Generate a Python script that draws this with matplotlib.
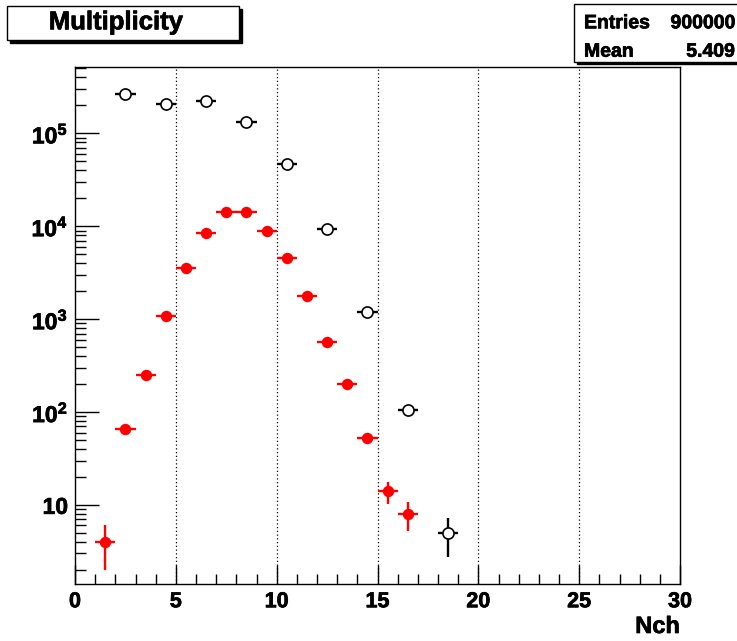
import numpy as np
import matplotlib
matplotlib.use("Agg")
import matplotlib.pyplot as plt
import matplotlib.patheffects as pe
from matplotlib.patches import Rectangle
from matplotlib.ticker import FixedLocator, NullFormatter

plt.rcParams["font.family"] = ["Liberation Sans", "DejaVu Sans"]
plt.rcParams["font.weight"] = "bold"
plt.rcParams["mathtext.fontset"] = "custom"
plt.rcParams["mathtext.rm"] = "Liberation Sans:bold"
plt.rcParams["mathtext.bf"] = "Liberation Sans:bold"
plt.rcParams["mathtext.it"] = "Liberation Sans:bold"

# Daten
red_x = [1.5, 2.5, 3.5, 4.5, 5.5, 6.5, 7.5, 8.5, 9.5, 10.5, 11.5, 12.5, 13.5, 14.5, 15.5, 16.5]
red_n = [4, 65, 253, 1070, 3580, 8550, 14250, 14300, 9000, 4520, 1760, 574, 202, 52, 14, 8]

open_x = [2.5, 4.5, 6.5, 8.5, 10.5, 12.5, 14.5, 16.5, 18.5]
open_n = [267000, 208000, 225000, 133000, 46300, 9440, 1180, 105, 5]

title_text = "Multiplicity"
stat_names = ["Entries", "Mean"]
stat_values = ["900000", "5.409"]

x_ticks = [0, 5, 10, 15, 20, 25, 30]
y_ticks = [10, 1e2, 1e3, 1e4, 1e5]
y_labels = ["10", "$10^{2}$", "$10^{3}$", "$10^{4}$", "$10^{5}$"]

W, H = 737, 641
heavy = [pe.withStroke(linewidth=0.5, foreground="black")]


def fx(px):
    return px / W


def fy(py):
    return 1 - py / H


fig = plt.figure(figsize=(W / 100, H / 100), dpi=100)
ax = fig.add_axes([fx(75), fy(584.3), fx(680) - fx(75), fy(67.3) - fy(584.3)])

ax.set_xlim(0, 30)
ax.set_yscale("log")
ax.set_ylim(1.395, 5.15e5)

# Fehlerbalken + Marker
red_err = np.sqrt(red_n)
open_err = np.sqrt(open_n)
ax.errorbar(red_x, red_n, xerr=0.5, yerr=red_err, fmt="none", ecolor="red",
            elinewidth=1.7, capsize=0, zorder=2)
ax.plot(red_x, red_n, "o", color="red", ms=7.2, mec="red", zorder=3)
ax.errorbar(open_x, open_n, xerr=0.5, yerr=open_err, fmt="none", ecolor="black",
            elinewidth=1.7, capsize=0, zorder=2)
ax.plot(open_x, open_n, "o", mfc="white", mec="black", mew=1.2, ms=8, zorder=3)

# Gitter nur vertikal
for gx in [5, 10, 15, 20, 25]:
    ax.axvline(gx, color="black", lw=0.9, ls=(0, (1, 2)), zorder=1)

# Achsen
ax.set_xticks(x_ticks)
ax.set_xticklabels([str(v) for v in x_ticks])
ax.xaxis.set_minor_locator(FixedLocator(np.arange(0, 31, 1)))
ax.set_yticks(y_ticks)
ax.set_yticklabels(y_labels)
minor_y = [m * 10.0 ** d for d in range(0, 6) for m in range(2, 10)]
ax.yaxis.set_minor_locator(FixedLocator(minor_y))
ax.yaxis.set_minor_formatter(NullFormatter())

ax.tick_params(which="both", direction="in", top=False, right=False, color="black", width=1)
ax.tick_params(axis="x", which="major", length=14, pad=5, labelsize=15.5)
ax.tick_params(axis="x", which="minor", length=7)
ax.tick_params(axis="y", which="major", length=17, pad=5, labelsize=16.5)
ax.tick_params(axis="y", which="minor", length=8)
for lab in ax.get_xticklabels() + ax.get_yticklabels():
    lab.set_fontweight("bold")
    lab.set_path_effects(heavy)
for s in ax.spines.values():
    s.set_linewidth(1.0)

fig.text(fx(680), fy(633), "Nch", ha="right", va="baseline", fontsize=17,
         fontweight="bold", path_effects=heavy)

# Titelbox mit Schatten
fig.patches.append(Rectangle((fx(10.3), fy(43)), fx(239) - fx(7.3), fy(5.7) - fy(40),
                             transform=fig.transFigure, facecolor="black", edgecolor="black", lw=1))
fig.patches.append(Rectangle((fx(7.3), fy(40)), fx(239) - fx(7.3), fy(5.7) - fy(40),
                             transform=fig.transFigure, facecolor="white", edgecolor="black", lw=1))
fig.text(fx(116), fy(29.3), title_text, ha="center", va="baseline", fontsize=18.5,
         fontweight="bold", path_effects=heavy)

# Statistikbox
fig.patches.append(Rectangle((fx(577), fy(63.5)), fx(760) - fx(574), fy(4) - fy(61.7),
                             transform=fig.transFigure, facecolor="black", edgecolor="black", lw=1))
fig.patches.append(Rectangle((fx(574), fy(61.7)), fx(760) - fx(574), fy(4) - fy(61.7),
                             transform=fig.transFigure, facecolor="white", edgecolor="black", lw=1))
for i, (nm, val) in enumerate(zip(stat_names, stat_values)):
    yb = 28.3 + i * 28.4
    fig.text(fx(584), fy(yb), nm, ha="left", va="baseline", fontsize=14,
             fontweight="bold", path_effects=heavy)
    fig.text(fx(735), fy(yb), val, ha="right", va="baseline", fontsize=14,
             fontweight="bold", path_effects=heavy)

fig.savefig("out.png", dpi=100)
